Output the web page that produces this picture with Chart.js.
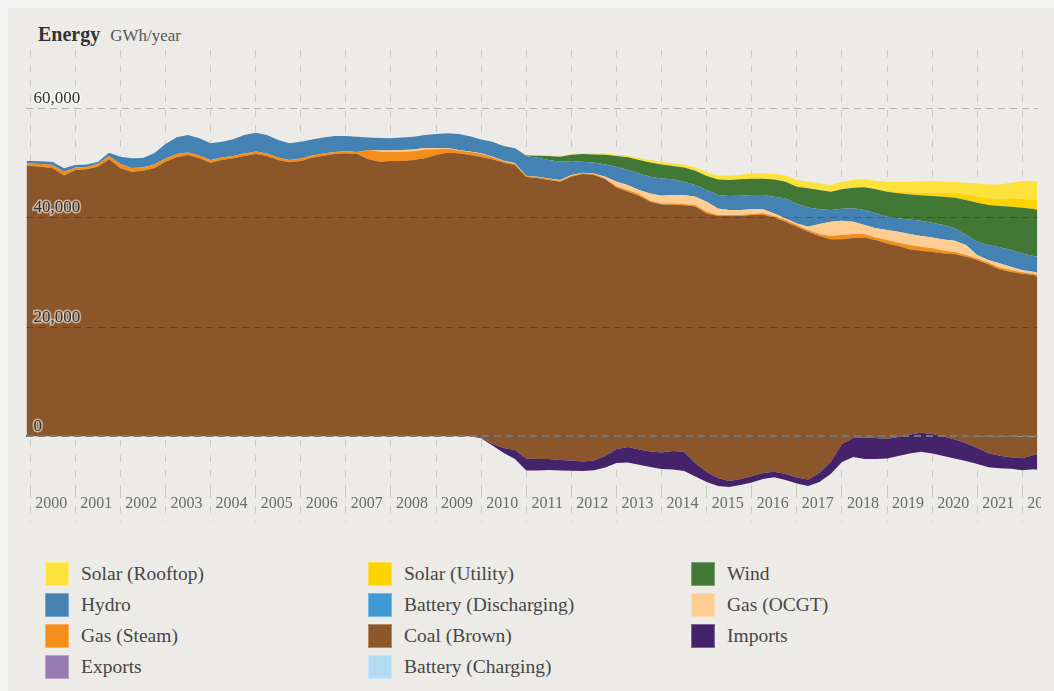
<!DOCTYPE html>
<html><head><meta charset="utf-8">
<script src="https://cdn.jsdelivr.net/npm/chart.js@4.4.1/dist/chart.umd.min.js"></script>
<style>
html,body{margin:0;padding:0;overflow:hidden;background:#f4f4f4;width:1054px;height:691px;}
#panel{position:absolute;left:8px;top:8px;width:1046px;height:683px;background:#ecebe7;}
#title{position:absolute;left:30px;top:17px;font-family:"Liberation Serif",serif;font-size:20px;line-height:19px;color:#333;white-space:nowrap;}
#title b{font-weight:bold;color:#333}
#title span{font-size:17px;color:#555;margin-left:10px;}
#chart{position:absolute;left:0;top:12px;}
#legend{position:absolute;left:37px;top:554px;display:grid;grid-template-columns:323px 323px 323px;grid-auto-rows:31px;font-family:"Liberation Serif",serif;font-size:19.5px;color:#464646;}
.item{display:flex;align-items:center;height:24px;line-height:24px;white-space:nowrap}
.sw{width:24px;height:24px;box-sizing:border-box;margin-right:12px;box-shadow:inset 0 0 0 1px rgba(255,255,255,0.3)}
</style></head>
<body><div id="panel"><div id="title"><b>Energy</b><span>GWh/year</span></div><canvas id="chart" width="1033" height="510"></canvas><div id="legend"></div></div>
<script>
const periods = ['1999-12',
'2000-01','2000-04','2000-07','2000-10','2001-01','2001-04','2001-07','2001-10',
'2002-01','2002-04','2002-07','2002-10','2003-01','2003-04','2003-07','2003-10',
'2004-01','2004-04','2004-07','2004-10','2005-01','2005-04','2005-07','2005-10',
'2006-01','2006-04','2006-07','2006-10','2007-01','2007-04','2007-07','2007-10',
'2008-01','2008-04','2008-07','2008-10','2009-01','2009-04','2009-07','2009-10',
'2010-01','2010-04','2010-07','2010-10','2011-01','2011-04','2011-07','2011-10',
'2012-01','2012-04','2012-07','2012-10','2013-01','2013-04','2013-07','2013-10',
'2014-01','2014-04','2014-07','2014-10','2015-01','2015-04','2015-07','2015-10',
'2016-01','2016-04','2016-07','2016-10','2017-01','2017-04','2017-07','2017-10',
'2018-01','2018-04','2018-07','2018-10','2019-01','2019-04','2019-07','2019-10',
'2020-01','2020-04','2020-07','2020-10','2021-01','2021-04','2021-07','2021-10',
'2022-01','2022-04','2022-05'];

const coalBrown = [49520,
49460,49340,49040,47730, 48730,48860,49340,50690,
49040,48420,48600,49040, 50250,51060,51480,50870,
50070,50560,50870,51290, 51660,51290,50560,50140,
50380,50980,51350,51660, 51790,51660,50690,50250,
50380,50380,50560,50870, 51480,51900,51790,51480,
51320,52100,52220,52160, 51510,51420,51050,50940,
51940,52610,52250,50640, 47880,46730,46460,45720,
45410,45080,45140,46970, 47330,47950,48500,48130,
47770,47280,46550,46180, 45900,45360,43380,40750,
37460,36600,36630,36230, 35800,34960,33890,33310,
33310,33520,33950,34100, 34400,34530,34070,33920,
33790,32910,32450];

const gasSteam = [440,
460,490,600,700, 460,420,490,600,
790,680,590,700, 590,600,460,510,
490,460,420,460, 460,460,460,420,
460,400,400,370, 370,370,1700,1850,
1670,1710,1620,1630, 1080,710,500,550,
600,370,240,180, 180,180,240,180,
180,180,180,180, 240,300,300,180,
180,240,240,240, 300,180,180,180,
180,240,240,300, 300,300,370,610,
790,730,610,490, 610,610,790,730,
670,490,370,300, 300,300,370,300,
240,240,430];

const gasOcgt = [0,
0,0,0,0, 0,0,0,0,
0,0,0,0, 0,0,0,0,
0,0,0,0, 0,0,0,0,
0,0,0,0, 0,0,0,200,
250,300,300,250, 200,150,100,100,
100,120,120,120, 60,60,60,120,
120,60,120,300, 790,920,730,1340,
1400,1530,1650,1530, 1830,1220,920,920,
850,730,490,300, 300,610,1830,2620,
2620,2260,1650,1650, 1830,2010,2010,1950,
2010,2070,2070,1830, 610,490,730,610,
370,300,300];

const hydro = [420,
460,490,550,620, 460,490,370,600,
1340,1780,1740,2050, 2650,3060,3200,3150,
3060,2890,3060,3390, 3440,3390,3200,3060,
3070,2960,2960,2930, 2800,2800,2320,2290,
2230,2320,2340,2380, 2560,2690,2930,2800,
2500,2750,2680,2750, 3600,3480,3360,3360,
2560,2010,2010,2260, 2750,2750,3050,3050,
3170,2870,2440,2140, 2140,2440,2560,2620,
2620,2620,3050,3660, 3540,3540,2680,2140,
2200,2440,2750,2750, 2440,2440,2680,2810,
2680,2620,2260,1830, 2440,2750,2930,3050,
3050,2870,2930];

const batteryDischarging = [0,
0,0,0,0, 0,0,0,0, 0,0,0,0, 0,0,0,0,
0,0,0,0, 0,0,0,0, 0,0,0,0, 0,0,0,0,
0,0,0,0, 0,0,0,0, 0,0,0,0, 0,0,0,0,
0,0,0,0, 0,0,0,0, 0,0,0,0, 0,0,0,0,
0,0,0,0, 0,0,0,0, 0,0,0,0, 0,0,0,0,
0,0,0,0, 10,20,30,40,
50,60,60];

const wind = [0,
0,0,0,0, 0,0,0,0, 0,0,0,0, 0,0,0,0,
0,0,0,0, 0,0,0,0, 0,0,0,0, 0,0,0,0,
0,0,0,0, 0,0,0,0, 0,0,0,0,
120,370,730,920, 1160,1400,1460,1770,
1950,2320,2440,2620, 2560,2440,2620,2620,
2560,2870,2930,2990, 2990,2990,3170,3050,
3170,3480,3540,3360, 3540,3780,4150,4390,
4580,4580,4580,4640, 4880,5190,5610,6400,
7140,7320,7560,7930, 8360,8600,8540];

const solarUtility = [0,
0,0,0,0, 0,0,0,0, 0,0,0,0, 0,0,0,0,
0,0,0,0, 0,0,0,0, 0,0,0,0, 0,0,0,0,
0,0,0,0, 0,0,0,0, 0,0,0,0, 0,0,0,0,
0,0,0,0, 0,0,0,0, 0,0,0,0, 0,0,0,0,
0,0,0,0, 0,0,0,0, 0,0,0,60,
120,240,370,490, 610,730,850,920,
1100,1220,1340,1530, 1590,1650,1710];

const solarRooftop = [0,
0,0,0,0, 0,0,0,0, 0,0,0,0, 0,0,0,0,
0,0,0,0, 0,0,0,0, 0,0,0,0, 0,0,0,0,
0,0,0,0, 0,0,0,0, 0,0,0,0,
120,120,120,120, 120,120,180,180,
240,300,370,430, 430,490,490,610,
730,730,790,850, 980,980,1040,1160,
1220,1220,1220,1220, 1400,1400,1460,1530,
1710,1830,1950,2070, 2140,2070,2010,2260,
2440,2560,2620,2870, 3290,3540,3480];

const imports = [0,
0,0,0,0, 0,0,0,0, 0,0,0,0, 0,0,0,0,
0,0,0,0, 0,0,0,0, 0,0,0,0, 0,0,0,0,
0,0,0,0, 0,0,0,0,
130,270,920,1650, 2200,2100,2010,1920,
1870,1740,1790,2100, 2560,2840,2780,2840,
3020,3390,3480,2470, 1830,1460,1100,1100,
1190,1100,1020,1100, 1100,1190,1650,2200,
3290,3480,3930,3840, 3570,3480,3480,3480,
3570,3570,3480,3290, 2930,2560,2290,2100,
2200,2650,2800];

const exports = [0,
0,0,0,0, 0,0,0,0, 0,0,0,0, 0,0,0,0,
0,0,0,0, 0,0,0,0, 0,0,0,0, 0,0,0,0,
0,0,0,0, 0,0,0,0,
-350,-1680,-3060,-4150, -6260,-6260,-6170,-6260,
-6300,-6350,-6220,-5710, -4890,-4790,-5200,-5620,
-5980,-6080,-6350,-7360, -8360,-9100,-9280,-8910,
-8450,-7810,-7500,-8000, -8640,-9100,-8360,-6900,
-4700,-3790,-4150,-4150, -4060,-3610,-3150,-2820,
-3150,-3610,-4060,-4520, -5070,-5620,-5800,-5890,
-6170,-5980,-6040];

const batteryCharging = [0,
0,0,0,0, 0,0,0,0, 0,0,0,0, 0,0,0,0,
0,0,0,0, 0,0,0,0, 0,0,0,0, 0,0,0,0,
0,0,0,0, 0,0,0,0, 0,0,0,0, 0,0,0,0,
0,0,0,0, 0,0,0,0, 0,0,0,0, 0,0,0,0,
0,0,0,0, 0,0,0,0, 0,0,0,0, 0,0,0,0,
0,0,0,0, -10,-20,-30,-40,
-50,-60,-60];

const yearTicks = [2000,2001,2002,2003,2004,2005,2006,2007,2008,2009,2010,2011,2012,2013,2014,2015,2016,2017,2018,2019,2020,2021,2022];
const valueTicks = [0,20000,40000,60000];

// legend order (top of stack first), as in the reference
const legendOrder = ['Solar (Rooftop)','Solar (Utility)','Wind','Hydro','Battery (Discharging)','Gas (OCGT)','Gas (Steam)','Coal (Brown)','Imports','Exports','Battery (Charging)'];

const colors = {
  'Solar (Rooftop)':'#FCE23B','Solar (Utility)':'#FDD300','Wind':'#417836','Hydro':'#4582B4',
  'Battery (Discharging)':'#3E9BD6','Gas (OCGT)':'#FFCC92','Gas (Steam)':'#F48E1B','Coal (Brown)':'#8B572A',
  'Imports':'#44236B','Exports':'#977AB1','Battery (Charging)':'#B3DCF2'
};

function toYear(p){ const a = p.split('-').map(Number); return a[0] + (a[1]-1)/12; }
const xs = periods.map(toYear);
const pts = arr => arr.map((v,i) => ({x: xs[i], y: v}));

// stack order: bottom first
const stackSeries = [
  ['Battery (Charging)', batteryCharging, 'origin'],
  ['Exports', exports, false],
  ['Imports', imports, '-1'],
  ['Coal (Brown)', coalBrown, '-1'],
  ['Gas (Steam)', gasSteam, '-1'],
  ['Gas (OCGT)', gasOcgt, '-1'],
  ['Battery (Discharging)', batteryDischarging, '-1'],
  ['Hydro', hydro, '-1'],
  ['Wind', wind, '-1'],
  ['Solar (Utility)', solarUtility, '-1'],
  ['Solar (Rooftop)', solarRooftop, '-1']
];

const datasets = stackSeries.map(([label, arr, fill]) => ({
  label, data: pts(arr), fill,
  backgroundColor: fill === false ? 'rgba(0,0,0,0)' : colors[label],
  borderColor: 'rgba(0,0,0,0)', borderWidth: 0,
  pointRadius: 0, tension: 0
}));

const serif = 'Liberation Serif';

new Chart(document.getElementById('chart').getContext('2d'), {
  type: 'line',
  data: { datasets },
  options: {
    responsive: false, animation: false,
    layout: { padding: { left: 18.4, right: 3.6, top: 30, bottom: 8 } },
    plugins: { legend: { display: false }, tooltip: { enabled: false } },
    scales: {
      x: {
        type: 'linear', min: toYear(periods[0]), max: toYear(periods[periods.length-1]),
        afterBuildTicks: s => { s.ticks = yearTicks.map(v => ({ value: v })); },
        afterFit: s => { s.height = 31; },
        grid: { color: 'rgba(0,0,0,0.14)', lineWidth: 1, drawTicks: true, tickLength: 31,
                tickColor: 'rgba(0,0,0,0.14)', tickWidth: 1, tickBorderDash: [7, 8] },
        border: { display: false, dash: [7, 8] },
        ticks: { autoSkip: false, maxRotation: 0, minRotation: 0, padding: -28, labelOffset: 21,
                 color: '#6b6b6b', font: { family: serif, size: 16 }, callback: v => String(v) }
      },
      y: {
        type: 'linear', stacked: 'single', min: -10000, max: 70700,
        afterBuildTicks: s => { s.ticks = valueTicks.map(v => ({ value: v })); },
        afterFit: s => { s.width = 0; },
        grid: { z: 1, drawTicks: false,
                color: c => (c.tick && c.tick.value === 0) ? '#737a7e' : 'rgba(0,0,0,0.25)',
                lineWidth: c => (c.tick && c.tick.value === 0) ? 2 : 1 },
        border: { display: false, dash: [7, 5] },
        ticks: { z: 1, mirror: true, padding: 7, labelOffset: -10, color: '#333',
                 font: { family: serif, size: 17 },
                 textStrokeColor: 'rgba(255,255,255,0.55)', textStrokeWidth: 3,
                 callback: v => Number(v).toLocaleString('en-US') }
      }
    }
  }
});

const legend = document.getElementById('legend');
legendOrder.forEach(name => {
  const it = document.createElement('div'); it.className = 'item';
  const sw = document.createElement('div'); sw.className = 'sw'; sw.style.background = colors[name];
  const tx = document.createElement('span'); tx.textContent = name;
  it.appendChild(sw); it.appendChild(tx); legend.appendChild(it);
});
</script>
</body></html>
